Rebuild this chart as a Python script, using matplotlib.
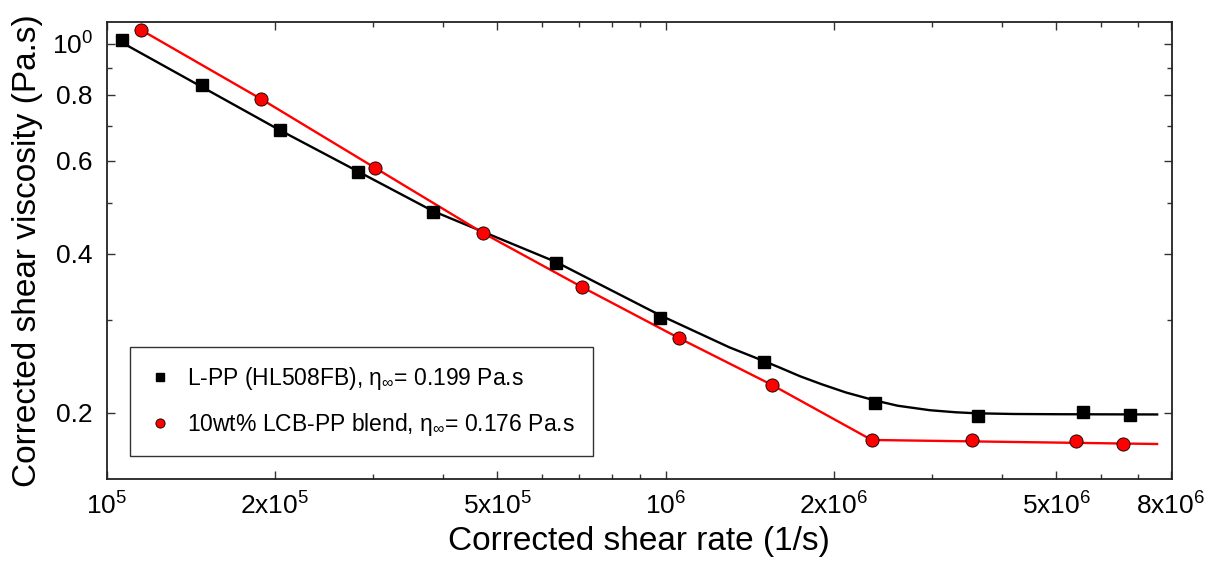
import matplotlib
matplotlib.use("Agg")
import matplotlib.pyplot as plt
from matplotlib.ticker import FixedLocator, FixedFormatter, NullFormatter

plt.rcParams['font.family'] = ['Liberation Sans', 'DejaVu Sans']
plt.rcParams['mathtext.fontset'] = 'custom'
plt.rcParams['mathtext.rm'] = 'Liberation Sans'
plt.rcParams['mathtext.it'] = 'Liberation Sans'

# data
lpp_rate = [1.065e5, 1.481e5, 2.04e5, 2.816e5, 3.834e5, 6.365e5, 9.77e5, 1.499e6, 2.368e6, 3.625e6, 5.57e6, 6.77e6]
lpp_visc = [1.016, 0.835, 0.686, 0.571, 0.480, 0.384, 0.302, 0.2495, 0.209, 0.197, 0.201, 0.198]

lcb_rate = [1.152e5, 1.888e5, 3.02e5, 4.712e5, 7.085e5, 1.056e6, 1.549e6, 2.336e6, 3.537e6, 5.43e6, 6.59e6]
lcb_visc = [1.062, 0.786, 0.582, 0.438, 0.346, 0.277, 0.2258, 0.1776, 0.1778, 0.1768, 0.1743]

# fitted curves
lpp_fit_rate = [1.065e5, 2.04e5, 3.834e5, 6.365e5, 9.77e5, 1.3e6, 1.499e6, 1.6e6, 1.739e6, 1.9e6, 2.1e6,
                2.368e6, 2.6e6, 2.97e6, 3.3e6, 3.6e6, 4.2e6, 5.0e6, 7.57e6]
lpp_fit_visc = [1.005, 0.686, 0.482, 0.386, 0.306, 0.266, 0.2505, 0.2435, 0.2345, 0.2265, 0.2185,
                0.2110, 0.2062, 0.2022, 0.2004, 0.1995, 0.1989, 0.1987, 0.1985]
lcb_fit_rate = [1.152e5, 1.888e5, 3.02e5, 4.712e5, 7.085e5, 1.056e6, 1.549e6, 2.336e6, 7.57e6]
lcb_fit_visc = [1.062, 0.786, 0.582, 0.438, 0.346, 0.277, 0.2258, 0.1776, 0.1745]

lpp_label = r'L-PP (HL508FB), $\eta_{\infty}$= 0.199 Pa.s'
lcb_label = r'10wt% LCB-PP blend, $\eta_{\infty}$= 0.176 Pa.s'

x_major = [1e5, 2e5, 5e5, 1e6, 2e6, 5e6, 8e6]
x_major_labels = [r'$10^5$', r'2x$10^5$', r'5x$10^5$', r'$10^6$', r'2x$10^6$', r'5x$10^6$', r'8x$10^6$']
x_minor = [3e5, 4e5, 6e5, 7e5, 8e5, 9e5, 3e6, 4e6, 6e6, 7e6]
y_major = [0.2, 0.4, 0.6, 0.8, 1.0]
y_major_labels = ['0.2', '0.4', '0.6', '0.8', r'$10^0$']
y_minor = [0.3, 0.5, 0.7, 0.9]

fig = plt.figure(figsize=(12.14, 5.62), dpi=100)
ax = fig.add_axes([0.0879, 0.1477, 0.8773, 0.8126])

ax.plot(lpp_fit_rate, lpp_fit_visc, color='black', lw=1.7, zorder=2)
ax.plot(lcb_fit_rate, lcb_fit_visc, color='red', lw=1.7, zorder=2)
ax.plot(lpp_rate, lpp_visc, 's', color='black', ms=8.5, ls='none', zorder=3, label=lpp_label)
ax.plot(lcb_rate, lcb_visc, 'o', color='red', mec='black', mew=0.6, ms=9.5, ls='none', zorder=3, label=lcb_label)

ax.set_xscale('log')
ax.set_yscale('log')
ax.set_xlim(1e5, 8.04e6)
ax.set_ylim(0.1498, 1.098)

ax.xaxis.set_major_locator(FixedLocator(x_major))
ax.xaxis.set_major_formatter(FixedFormatter(x_major_labels))
ax.xaxis.set_minor_locator(FixedLocator(x_minor))
ax.xaxis.set_minor_formatter(NullFormatter())
ax.yaxis.set_major_locator(FixedLocator(y_major))
ax.yaxis.set_major_formatter(FixedFormatter(y_major_labels))
ax.yaxis.set_minor_locator(FixedLocator(y_minor))
ax.yaxis.set_minor_formatter(NullFormatter())

ax.tick_params(which='both', direction='in', top=True, right=True, labelsize=19, width=1, color='#333333')
ax.tick_params(which='major', length=6, pad=10)
ax.tick_params(which='minor', length=3.5)
for s in ax.spines.values():
    s.set_linewidth(1.3)
    s.set_color('#222222')

ax.set_xlabel('Corrected shear rate (1/s)', fontsize=24, labelpad=4)
ax.set_ylabel('Corrected shear viscosity (Pa.s)', fontsize=24, labelpad=6)

leg = ax.legend(loc='upper left', bbox_to_anchor=(0.0219, 0.289), borderaxespad=0, fontsize=16.5,
                frameon=True, fancybox=False, edgecolor='black', handlelength=1.0, handletextpad=0.7,
                borderpad=0.8, labelspacing=0.8, markerscale=0.7, numpoints=1)
leg.get_frame().set_linewidth(1.0)

fig.savefig('out.png', dpi=100)
